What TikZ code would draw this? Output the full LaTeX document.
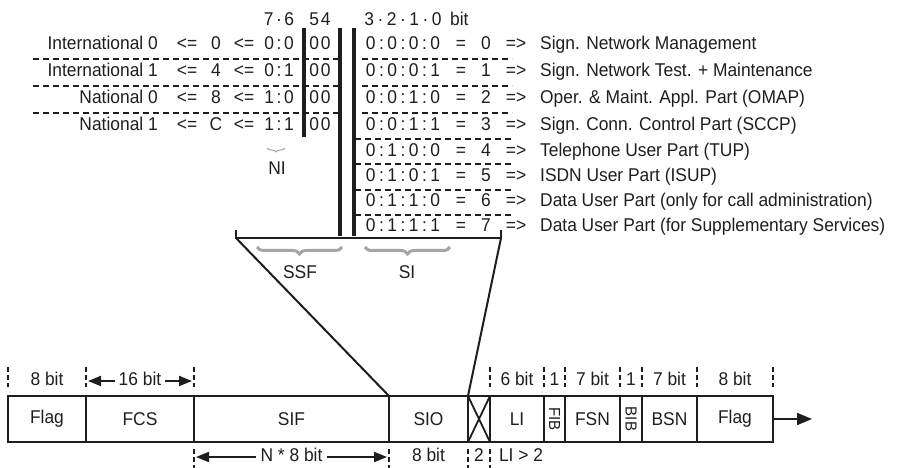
\documentclass[tikz,border=0pt]{standalone}
\usepackage{fontspec}
\setmainfont{Liberation Sans}[FakeStretch=0.94]
\usetikzlibrary{arrows.meta,decorations.pathreplacing}
\definecolor{ink}{HTML}{1E1E1E}
\definecolor{bracegray}{HTML}{A5A5A5}
\newcommand{\bcolL}{\kern2.6pt:\kern2.6pt}
\newcommand{\bcolR}{\kern3.5pt:\kern3.5pt}
\newcommand{\bdotL}{\kern2.6pt·\kern2.6pt}
\newcommand{\bdotR}{\kern3.5pt·\kern3.5pt}
\begin{document}
\begin{tikzpicture}[x=1pt,y=-1pt,
  font=\fontsize{18.5}{20}\selectfont,
  txt/.style={inner sep=0pt,text=ink,text height=13pt,text depth=3.5pt},
  lbl/.style={txt,anchor=east},
  desc/.style={txt,anchor=west},
  sep/.style={draw=ink,line width=1.4pt,dash pattern=on 6pt off 4pt},
  bar/.style={draw=ink,line width=3.6pt},
  rule/.style={draw=ink,line width=2pt},
  gbrace/.style={draw=bracegray,line width=3pt,decorate,decoration={brace,amplitude=7pt}},
  field/.style={draw=ink,line width=2.4pt,minimum height=46pt,inner sep=0pt,outer sep=0pt,text=ink},
  tick/.style={draw=ink,line width=2pt,dash pattern=on 5pt off 3pt},
  dim/.style={draw=ink,line width=2pt,-{Triangle[length=13pt,width=10pt]}},
]
\useasboundingbox (0,0) rectangle (906,468);

% header
\node[txt] (h76) at (279,21) {7\bdotL6};
\node[txt] (h54) at (320,21) {5\kern2pt4};
\node[txt] (h3210) at (403,21) {3\bdotR2\bdotR1\bdotR0};
\node[txt,anchor=west] (hbit) at (450,21) {bit};

% left rows
\foreach \i/\y/\nm/\v/\bb in {0/45/International 0/0/0\bcolL0,
                               1/72/International 1/4/0\bcolL1,
                               2/99/National 0/8/1\bcolL0,
                               3/126/National 1/C/1\bcolL1}{
  \node[lbl] (ln\i) at (158,\y) {\nm};
  \node[txt] (la\i) at (187,\y) {<=};
  \node[txt] (lv\i) at (216,\y) {\v};
  \node[txt] (lb\i) at (244,\y) {<=};
  \node[txt] (lc\i) at (279,\y) {\bb};
  \node[txt] (ld\i) at (320,\y) {0\kern2pt0};
}

% right rows
\foreach \i/\y/\bb/\d in {0/45/0\bcolR0\bcolR0\bcolR0/Sign. Network Management,
                           1/72/0\bcolR0\bcolR0\bcolR1/Sign. Network Test. + Maintenance,
                           2/99/0\bcolR0\bcolR1\bcolR0/Oper. \& Maint. Appl. Part (OMAP),
                           3/126/0\bcolR0\bcolR1\bcolR1/Sign. Conn. Control Part (SCCP),
                           4/152/0\bcolR1\bcolR0\bcolR0/Telephone User Part (TUP),
                           5/177/0\bcolR1\bcolR0\bcolR1/ISDN User Part (ISUP),
                           6/202/0\bcolR1\bcolR1\bcolR0/Data User Part (only for call administration),
                           7/227/0\bcolR1\bcolR1\bcolR1/Data User Part (for Supplementary Services)}{
  \node[txt] (rb\i) at (403,\y) {\bb};
  \node[txt] (re\i) at (461,\y) {=};
  \node[txt] (rn\i) at (486,\y) {\i};
  \node[txt] (ra\i) at (516,\y) {=>};
  \node[desc] (rd\i) at (540,\y) {\d};
}

% dashed separators
\foreach \y in {59,86,113}{
  \draw[sep] (33,\y) -- (338,\y);
  \draw[sep] (362,\y) -- (512,\y);
}
\foreach \y in {139,164,190,215}{
  \draw[sep] (355,\y) -- (512,\y);
}

% bars
\draw[bar] (304,28) -- (304,137);
\draw[bar] (340,28) -- (340,236);
\draw[bar] (354,28) -- (354,236);

% base line of the expansion
\coordinate (lend) at (236,238);
\coordinate (rend) at (501,238);
\draw[rule] (236,230) -- (lend) -- (rend) -- (501,230);

% braces
\draw[draw=bracegray,line width=1pt,decorate,decoration={brace,amplitude=4pt}] (285,148) -- (267,148);
\node[txt] (ni) at (277,170) {NI};
\draw[gbrace] (342,247) -- (257,247);
\node[txt] (ssf) at (300,274) {SSF};
\draw[gbrace] (450,247) -- (365,247);
\node[txt] (si) at (407,274) {SI};

% frame
\node[field,minimum width=78pt] (flagA) at (47,419) {Flag};
\node[field,minimum width=108pt] (fcs) at (140,419) {FCS};
\node[field,minimum width=195pt] (sif) at (291.5,419) {SIF};
\node[field,minimum width=79pt] (sio) at (428.5,419) {SIO};
\node[field,minimum width=22pt] (spare) at (479,419) {};
\node[field,minimum width=54pt] (li) at (517,419) {LI};
\node[field,minimum width=21pt] (fib) at (554.5,419) {\rotatebox{-90}{\fontsize{16}{18}\selectfont FIB}};
\node[field,minimum width=55pt] (fsn) at (592.5,419) {FSN};
\node[field,minimum width=22pt] (bib) at (631,419) {\rotatebox{-90}{\fontsize{16}{18}\selectfont BIB}};
\node[field,minimum width=55pt] (bsn) at (669.5,419) {BSN};
\node[field,minimum width=76pt] (flagB) at (735,419) {Flag};
\draw[draw=ink,line width=1.8pt] (spare.north west) -- (spare.south east) (spare.south west) -- (spare.north east);

\coordinate (out) at (812,419);
\draw[rule,-{Triangle[length=15pt,width=12pt]}] (flagB.east) -- (out);

% expansion lines
\draw[rule] (lend) -- (sif.north east);
\draw[rule] (rend) -- (sio.north east);

% ticks
\foreach \x in {8,86,194,490,544,565,620,642,697,773}{
  \draw[tick] (\x,367) -- (\x,387);
}
\foreach \x in {194,389,468,490}{
  \draw[tick] (\x,449) -- (\x,469);
}

% labels above
\node[txt] (u1) at (47,381) {8 bit};
\node[txt] (u2) at (140,381) {16 bit};
\coordinate (k86) at (88,381);
\coordinate (k194) at (192,381);
\draw[dim] ([xshift=-4pt]u2.west) -- (k86);
\draw[dim] ([xshift=4pt]u2.east) -- (k194);
\node[txt] (u3) at (517,381) {6 bit};
\node[txt] (u4) at (554.5,381) {1};
\node[txt] (u5) at (592.5,381) {7 bit};
\node[txt] (u6) at (631,381) {1};
\node[txt] (u7) at (669.5,381) {7 bit};
\node[txt] (u8) at (735,381) {8 bit};

% labels below
\node[txt] (d1) at (291.5,457) {N * 8 bit};
\coordinate (k194b) at (196,457);
\coordinate (k389b) at (387,457);
\draw[dim] ([xshift=-4pt]d1.west) -- (k194b);
\draw[dim] ([xshift=4pt]d1.east) -- (k389b);
\node[txt] (d2) at (428.5,457) {8 bit};
\node[txt] (d3) at (479,457) {2};
\node[txt] (d4) at (521,457) {LI > 2};
\end{tikzpicture}
\end{document}
